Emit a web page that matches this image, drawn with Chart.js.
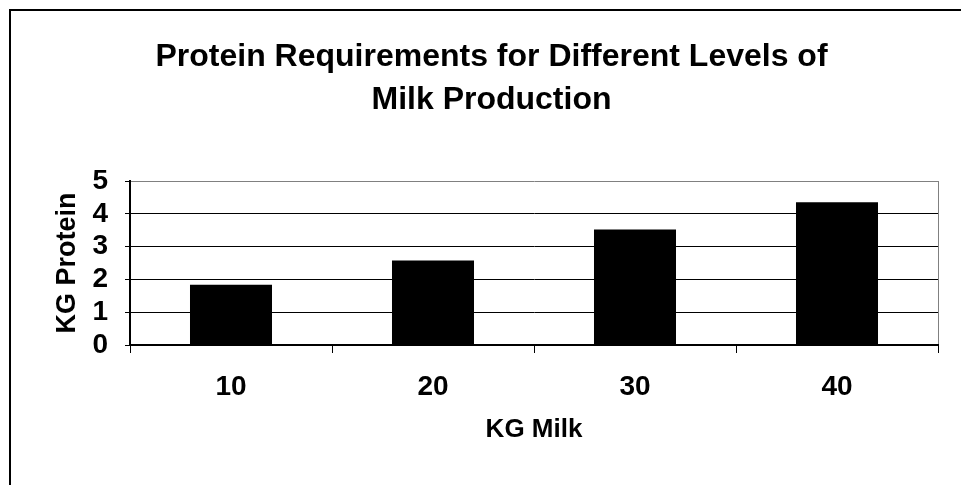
<!DOCTYPE html>
<html>
<head>
<meta charset="utf-8">
<script src="https://cdn.jsdelivr.net/npm/chart.js@4"></script>
<style>
  html, body { margin: 0; padding: 0; background: #fff; overflow: hidden; }
  #wrap { position: relative; width: 961px; height: 485px; overflow: hidden; }
  #frame { position: absolute; left: 9px; top: 9px; width: 2000px; height: 2000px; border: 2px solid #000; box-sizing: border-box; }
  #c { position: absolute; left: 0; top: 0; }
</style>
</head>
<body>
<div id="wrap">
  <div id="frame"></div>
  <canvas id="c" width="961" height="485"></canvas>
</div>
<script>
// Milk yield (kg) and the daily protein it calls for (kg)
const milkKg = ['10', '20', '30', '40'];
const proteinKg = [1.84, 2.58, 3.52, 4.35];
const proteinTicks = [0, 1, 2, 3, 4, 5];

const titleLines = ['Protein Requirements for Different Levels of', 'Milk Production'];
const FONT = "'Liberation Sans', Arial, Helvetica, sans-serif";

new Chart(document.getElementById('c'), {
  type: 'bar',
  data: {
    labels: milkKg,
    datasets: [{
      label: 'KG Protein',
      data: proteinKg,
      backgroundColor: '#000',
      borderWidth: 0,
      categoryPercentage: 1,
      barPercentage: 0.406
    }]
  },
  options: {
    responsive: false,
    animation: false,
    events: [],
    layout: { padding: { left: 45, right: 23, top: 10, bottom: 40 } },
    plugins: {
      legend: { display: false },
      tooltip: { enabled: false },
      title: {
        display: true,
        text: titleLines,
        color: '#000',
        font: { family: FONT, size: 32, weight: 'bold', lineHeight: 1.344 },
        padding: { top: 26, bottom: 59 }
      }
    },
    scales: {
      x: {
        offset: true,
        afterFit: (s) => { s.height = 100; },
        border: { display: true, color: '#000', width: 2 },
        grid: {
          offset: true,
          drawOnChartArea: true,
          drawTicks: true,
          tickLength: 8,
          tickColor: '#000',
          lineWidth: 1,
          color: (ctx) => ctx.type === 'tick' ? 'rgba(0,0,0,0)' : '#808080'
        },
        ticks: {
          color: '#000',
          padding: 17,
          font: { family: FONT, size: 28, weight: 'bold' }
        },
        title: {
          display: true,
          text: 'KG Milk',
          color: '#000',
          font: { family: FONT, size: 26, weight: 'bold', lineHeight: 1.2 },
          padding: { top: 0, bottom: 0 }
        }
      },
      y: {
        min: 0,
        max: 5,
        afterFit: (s) => { s.width = 85; },
        afterBuildTicks: (s) => { s.ticks = proteinTicks.map(v => ({ value: v })); },
        border: { display: true, color: '#000', width: 2 },
        grid: {
          drawTicks: true,
          tickLength: 5,
          tickColor: '#000',
          lineWidth: 1,
          color: (ctx) => (ctx.tick && ctx.tick.value === 5) ? '#808080' : '#000'
        },
        ticks: {
          autoSkip: false,
          color: '#000',
          padding: 17,
          font: { family: FONT, size: 28, weight: 'bold' }
        },
        title: {
          display: true,
          text: 'KG Protein',
          color: '#000',
          font: { family: FONT, size: 27, weight: 'bold', lineHeight: 1.2 },
          padding: { top: 6, bottom: 0 }
        }
      }
    }
  }
});
</script>
</body>
</html>
